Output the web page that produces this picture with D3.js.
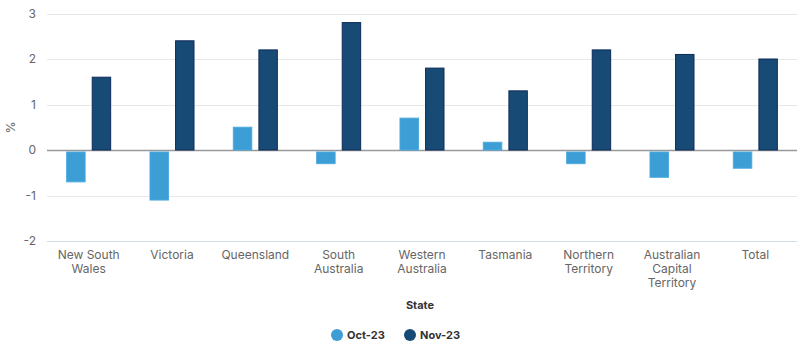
<!DOCTYPE html>
<html>
<head>
<meta charset="utf-8">
<script src="https://cdn.jsdelivr.net/npm/d3@7"></script>
<style>
  body { margin: 0; background: #fff; }
  svg { display: block; font-family: Inter, "Noto Sans", sans-serif; }
</style>
</head>
<body>
<div id="chart"></div>
<script>
// state-level change, %
const states = [
  ["New South", "Wales"], ["Victoria"], ["Queensland"], ["South", "Australia"],
  ["Western", "Australia"], ["Tasmania"], ["Northern", "Territory"],
  ["Australian", "Capital", "Territory"], ["Total"]
];
const oct23 = [-0.7, -1.1, 0.5, -0.3, 0.7, 0.17, -0.3, -0.6, -0.4];
const nov23 = [1.6, 2.4, 2.2, 2.8, 1.8, 1.3, 2.2, 2.1, 2.0];
const seriesNames = ["Oct-23", "Nov-23"];
const colors = ["#3d9dd5", "#174b75"];
const strokes = ["#4aa9e0", "#0c2a5a"];
const yTicks = [-2, -1, 0, 1, 2, 3];

const width = 800, height = 352;
const margin = {top: 13.5, right: 3, bottom: 111, left: 47};

const svg = d3.select("#chart").append("svg")
  .attr("width", width).attr("height", height);

const names = states.map(d => d.join(" "));
const x = d3.scaleBand().domain(names)
  .range([margin.left, width - margin.right]);
const y = d3.scaleLinear().domain([-2, 3])
  .range([height - margin.bottom, margin.top]);

const inner = d3.scaleBand().domain(seriesNames)
  .range([0, x.bandwidth()]).paddingInner(0.24).paddingOuter(0.75);

// grid
svg.append("g").selectAll("line").data(yTicks).join("line")
  .attr("x1", margin.left).attr("x2", width - margin.right)
  .attr("y1", d => Math.round(y(d)) + 0.5).attr("y2", d => Math.round(y(d)) + 0.5)
  .attr("stroke", d => d === -2 ? "#d3dbec" : (d === 0 ? "#999" : "#e8e8e8"))
  .attr("stroke-width", d => d === 0 ? 1.5 : 1);

// y labels
svg.append("g").selectAll("text").data(yTicks).join("text")
  .attr("x", 36).attr("y", d => y(d) + 4)
  .attr("text-anchor", "end")
  .attr("font-size", 12).attr("fill", "#666")
  .text(d => d);

svg.append("text")
  .attr("transform", `translate(15,${y(0.5)}) rotate(-90)`)
  .attr("text-anchor", "middle")
  .attr("font-size", 12).attr("fill", "#666")
  .text("%");

// bars
const data = [oct23, nov23];
data.forEach((vals, s) => {
  svg.append("g").selectAll("rect").data(vals).join("rect")
    .attr("x", (d, i) => x(names[i]) + inner(seriesNames[s]) + 0.5)
    .attr("width", inner.bandwidth() - 1)
    .attr("y", d => d >= 0 ? y(d) : y(0) + 2)
    .attr("height", d => d >= 0 ? y(0) - y(d) : y(d) - y(0) - 2)
    .attr("fill", colors[s])
    .attr("stroke", strokes[s])
    .attr("stroke-width", 1);
});

// x labels
const xl = svg.append("g").selectAll("text").data(states).join("text")
  .attr("x", (d, i) => x(names[i]) + x.bandwidth() / 2)
  .attr("y", 259)
  .attr("text-anchor", "middle")
  .attr("font-size", 12).attr("fill", "#666");
xl.selectAll("tspan").data(d => d).join("tspan")
  .attr("x", function() { return this.parentNode.getAttribute("x"); })
  .attr("dy", (d, i) => i ? 14 : 0)
  .text(d => d);

svg.append("text")
  .attr("x", x.range()[0] + (x.range()[1] - x.range()[0]) / 2 - 2)
  .attr("y", 309)
  .attr("text-anchor", "middle")
  .attr("font-size", 11).attr("font-weight", "bold").attr("fill", "#333")
  .text("State");

// legend
const lg = svg.append("g").selectAll("g").data(seriesNames).join("g")
  .attr("transform", (d, i) => `translate(${337 + i * 73},335)`);
lg.append("circle").attr("r", 6).attr("fill", (d, i) => colors[i]);
lg.append("text").attr("x", 10).attr("y", 4)
  .attr("font-size", 11).attr("font-weight", "bold").attr("fill", "#333")
  .text(d => d);
</script>
</body>
</html>
